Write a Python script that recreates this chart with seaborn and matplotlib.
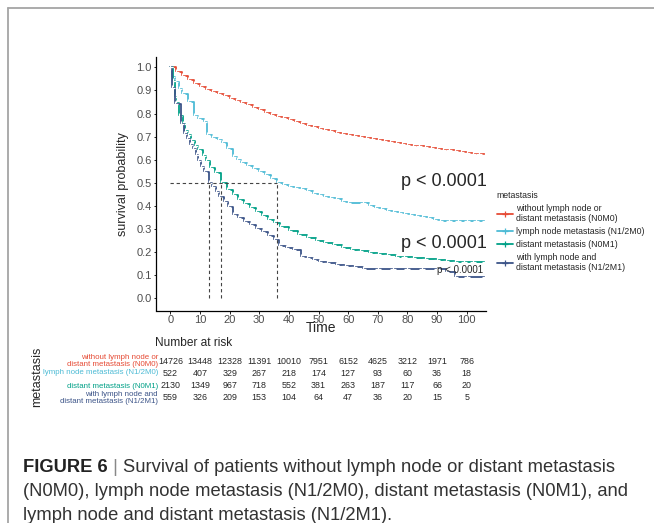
import numpy as np
import pandas as pd
import matplotlib
matplotlib.use("Agg")
import matplotlib.pyplot as plt
import seaborn as sns
from matplotlib.lines import Line2D
from matplotlib.transforms import blended_transform_factory

# ---------------- data ----------------
group_names = ["N0M0", "N1/2M0", "N0M1", "N1/2M1"]
legend_labels = ["without lymph node or\ndistant metastasis (N0M0)",
                 "lymph node metastasis (N1/2M0)",
                 "distant metastasis (N0M1)",
                 "with lymph node and\ndistant metastasis (N1/2M1)"]
palette = ["#E64B35", "#4DBBD5", "#00A087", "#3C5488"]

t_n0m0 = [0, 2, 4, 6, 8, 10, 12, 14, 16, 18, 20, 22, 24, 26, 28, 30, 32, 34, 36, 38,
          40, 42, 44, 46, 48, 50, 52, 54, 56, 58, 60, 62, 64, 66, 68, 70, 72, 74, 76, 78,
          80, 82, 84, 86, 88, 90, 92, 94, 96, 98, 100, 102, 104, 106]
s_n0m0 = [1.000, 0.982, 0.963, 0.946, 0.930, 0.915, 0.902, 0.893, 0.884, 0.874,
          0.865, 0.855, 0.845, 0.835, 0.825, 0.815, 0.804, 0.795, 0.787, 0.779,
          0.772, 0.764, 0.756, 0.748, 0.741, 0.735, 0.729, 0.723, 0.717, 0.712,
          0.707, 0.702, 0.697, 0.693, 0.688, 0.684, 0.680, 0.675, 0.671, 0.667,
          0.663, 0.660, 0.657, 0.653, 0.650, 0.647, 0.643, 0.640, 0.636, 0.633,
          0.629, 0.626, 0.623, 0.622]

t_n12m0 = [0, 0.5, 1.5, 3, 4, 6, 8, 9.5, 11.5, 12.5, 14, 16, 17.5, 19, 21, 22.5, 24, 26, 28, 30,
           32, 34, 36, 38, 40, 42, 44, 46, 48, 50, 52, 54, 56, 58, 60, 65, 67, 69, 71, 73,
           75, 77, 79, 81, 83, 85, 87, 89, 91, 94, 97, 100, 103, 106]
s_n12m0 = [1.0, 0.96, 0.935, 0.905, 0.885, 0.85, 0.79, 0.775, 0.762, 0.705,
           0.695, 0.685, 0.672, 0.645, 0.61, 0.598, 0.585, 0.573, 0.56, 0.545,
           0.535, 0.515, 0.498, 0.492, 0.48, 0.475, 0.472, 0.462, 0.453, 0.447,
           0.44, 0.433, 0.428, 0.418, 0.413, 0.41, 0.40, 0.392, 0.385, 0.378,
           0.372, 0.368, 0.365, 0.36, 0.357, 0.352, 0.345, 0.338, 0.332, 0.332,
           0.332, 0.332, 0.332, 0.332]

t_n0m1 = [0, 0.8, 1.5, 2, 3, 4.3, 5, 6, 7, 8.2, 9.5, 11, 12, 13.5, 15, 17, 19, 21, 23, 25,
          27, 29, 31, 33, 35, 37, 40, 43, 46, 49, 52, 55, 58, 61, 64, 67, 70, 73, 76, 79,
          82, 86, 90, 93, 96, 99, 102, 106]
s_n0m1 = [1.0, 0.94, 0.87, 0.845, 0.79, 0.755, 0.725, 0.705, 0.68, 0.66,
          0.64, 0.615, 0.595, 0.565, 0.54, 0.498, 0.47, 0.447, 0.425, 0.408,
          0.39, 0.372, 0.355, 0.337, 0.324, 0.31, 0.29, 0.272, 0.26, 0.248,
          0.238, 0.228, 0.218, 0.21, 0.203, 0.196, 0.19, 0.185, 0.18, 0.176,
          0.173, 0.17, 0.166, 0.16, 0.157, 0.157, 0.157, 0.157]

t_n12m1 = [0, 0.5, 1.5, 3.5, 4.5, 5.5, 6.5, 7.5, 8.5, 9.5, 10.5, 11.5, 13, 14, 15.5, 16.5,
           18, 19.5, 21, 23, 25, 27, 29, 31, 33, 35, 36.5, 39, 41.5, 44, 46, 48, 50, 53,
           56, 59, 62, 65, 70, 75, 80, 85, 90, 93, 96, 100, 106]
s_n12m1 = [1.0, 0.91, 0.84, 0.755, 0.71, 0.69, 0.665, 0.645, 0.62, 0.595, 0.57, 0.545,
           0.498, 0.48, 0.46, 0.44, 0.417, 0.395, 0.36, 0.345, 0.33, 0.318, 0.3, 0.285,
           0.27, 0.25, 0.225, 0.215, 0.208, 0.18, 0.172, 0.165, 0.158, 0.15, 0.143,
           0.137, 0.133, 0.128, 0.128, 0.128, 0.128, 0.128, 0.128, 0.115, 0.093, 0.093,
           0.093]

medians = [13, 17, 36]

risk_times = [0, 10, 20, 30, 40, 50, 60, 70, 80, 90, 100]
risk_n0m0 = [14726, 13448, 12328, 11391, 10010, 7951, 6152, 4625, 3212, 1971, 786]
risk_n12m0 = [522, 407, 329, 267, 218, 174, 127, 93, 60, 36, 18]
risk_n0m1 = [2130, 1349, 967, 718, 552, 381, 263, 187, 117, 66, 20]
risk_n12m1 = [559, 326, 209, 153, 104, 64, 47, 36, 20, 15, 5]
risk_labels = ["without lymph node or\ndistant metastasis (N0M0)",
               "lymph node metastasis (N1/2M0)",
               "distant metastasis (N0M1)",
               "with lymph node and\ndistant metastasis (N1/2M1)"]

xticks = [0, 10, 20, 30, 40, 50, 60, 70, 80, 90, 100]
yticks = [0.0, 0.1, 0.2, 0.3, 0.4, 0.5, 0.6, 0.7, 0.8, 0.9, 1.0]

# ---------------- build frame ----------------
frames = []
for g, t, s in zip(group_names, [t_n0m0, t_n12m0, t_n0m1, t_n12m1],
                   [s_n0m0, s_n12m0, s_n0m1, s_n12m1]):
    frames.append(pd.DataFrame({"time": t, "surv": s, "group": g}))
df = pd.concat(frames, ignore_index=True)

sns.set_style("ticks")
plt.rcParams["font.family"] = ["Liberation Sans", "DejaVu Sans"]

W, H = 654, 523
fig = plt.figure(figsize=(W / 100, H / 100), dpi=100)


def fx(px):
    return px / W


def fy(py):
    return 1 - py / H


ax = fig.add_axes([fx(155.5), fy(310.5), (486 - 155.5) / W, (310.5 - 57) / H])
sns.lineplot(data=df, x="time", y="surv", hue="group", hue_order=group_names,
             palette=palette, drawstyle="steps-post", estimator=None, sort=False,
             marker="+", markersize=5, markeredgewidth=0.9, linewidth=1.3,
             legend=False, ax=ax)

# median lines
ax.plot([0, max(medians)], [0.5, 0.5], ls=(0, (3, 2.5)), color="#444444", lw=0.8)
for m in medians:
    ax.plot([m, m], [0, 0.5], ls=(0, (3, 2.5)), color="#444444", lw=0.8)

ax.set_xlim(-5, 106.5)
ax.set_ylim(-0.054, 1.045)
ax.set_xticks(xticks)
ax.set_yticks(yticks)
ax.set_yticklabels([f"{v:.1f}" for v in yticks])
ax.tick_params(axis="both", labelsize=8, labelcolor="#4d4d4d", color="black",
               length=1.8, width=0.6)
ax.tick_params(axis="x", pad=1.2)
ax.tick_params(axis="y", pad=1.0)
for side in ["top", "right"]:
    ax.spines[side].set_visible(False)
for side in ["left", "bottom"]:
    ax.spines[side].set_color("black")
    ax.spines[side].set_linewidth(0.9)
ax.set_xlabel("Time", fontsize=10, labelpad=-2.5)
ax.set_ylabel("survival probability", fontsize=9, labelpad=5)

# p-values
fig.text(fx(487), fy(182), "p < 0.0001", fontsize=13, ha="right", va="center")
fig.text(fx(487), fy(243), "p < 0.0001", fontsize=13, ha="right", va="center")
fig.text(fx(483), fy(270), "p < 0.0001", fontsize=7, ha="right", va="center")

# legend
handles = [Line2D([0], [0], color=c, marker="+", markersize=5, markeredgewidth=0.9, lw=1.3)
           for c in palette]
leg = fig.legend(handles, legend_labels, loc="upper left",
                 bbox_to_anchor=(fx(489), fy(183)), title="metastasis",
                 fontsize=6.3, title_fontsize=6.3, frameon=False, handlelength=1.8,
                 handletextpad=0.4, labelspacing=0.45, alignment="left")

# risk table
trans = blended_transform_factory(ax.transData, fig.transFigure)
fig.text(fx(155), fy(343), "Number at risk", fontsize=8.6, ha="left", va="center")
row_y = [361, 373, 386, 398]
for counts, yy, c, lab in zip([risk_n0m0, risk_n12m0, risk_n0m1, risk_n12m1], row_y,
                              palette, risk_labels):
    for t, n in zip(risk_times, counts):
        ax.text(t, fy(yy), str(n), transform=trans, fontsize=6.4, ha="center",
                va="center", clip_on=False)
    fig.text(fx(158), fy(yy), lab, color=c, fontsize=5.7, ha="right", va="center",
             linespacing=1.05, multialignment="right")
fig.text(fx(37), fy(377), "metastasis", fontsize=9, rotation=90, ha="center", va="center")

# frame
fig.add_artist(Line2D([fx(8), 1], [fy(8), fy(8)], color="#a5a5a5", lw=1.3))
fig.add_artist(Line2D([fx(8), fx(8)], [fy(8), 0], color="#a5a5a5", lw=1.3))

# caption
renderer = fig.canvas.get_renderer()
cap_fs = 13.2
x0 = fx(23)
t1 = fig.text(x0, fy(467), "FIGURE 6", fontsize=cap_fs, fontweight="bold",
              color="#222222", va="center", ha="left")
bb = t1.get_window_extent(renderer)
t2 = fig.text(bb.x1 / W, fy(467), " | ", fontsize=cap_fs, color="#888888",
              va="center", ha="left")
bb = t2.get_window_extent(renderer)
fig.text(bb.x1 / W, fy(467), "Survival of patients without lymph node or distant metastasis",
         fontsize=cap_fs, color="#333333", va="center", ha="left")
fig.text(x0, fy(492), "(N0M0), lymph node metastasis (N1/2M0), distant metastasis (N0M1), and",
         fontsize=cap_fs, color="#333333", va="center", ha="left")
fig.text(x0, fy(516), "lymph node and distant metastasis (N1/2M1).",
         fontsize=cap_fs, color="#333333", va="center", ha="left")

fig.savefig("out.png", dpi=100)
